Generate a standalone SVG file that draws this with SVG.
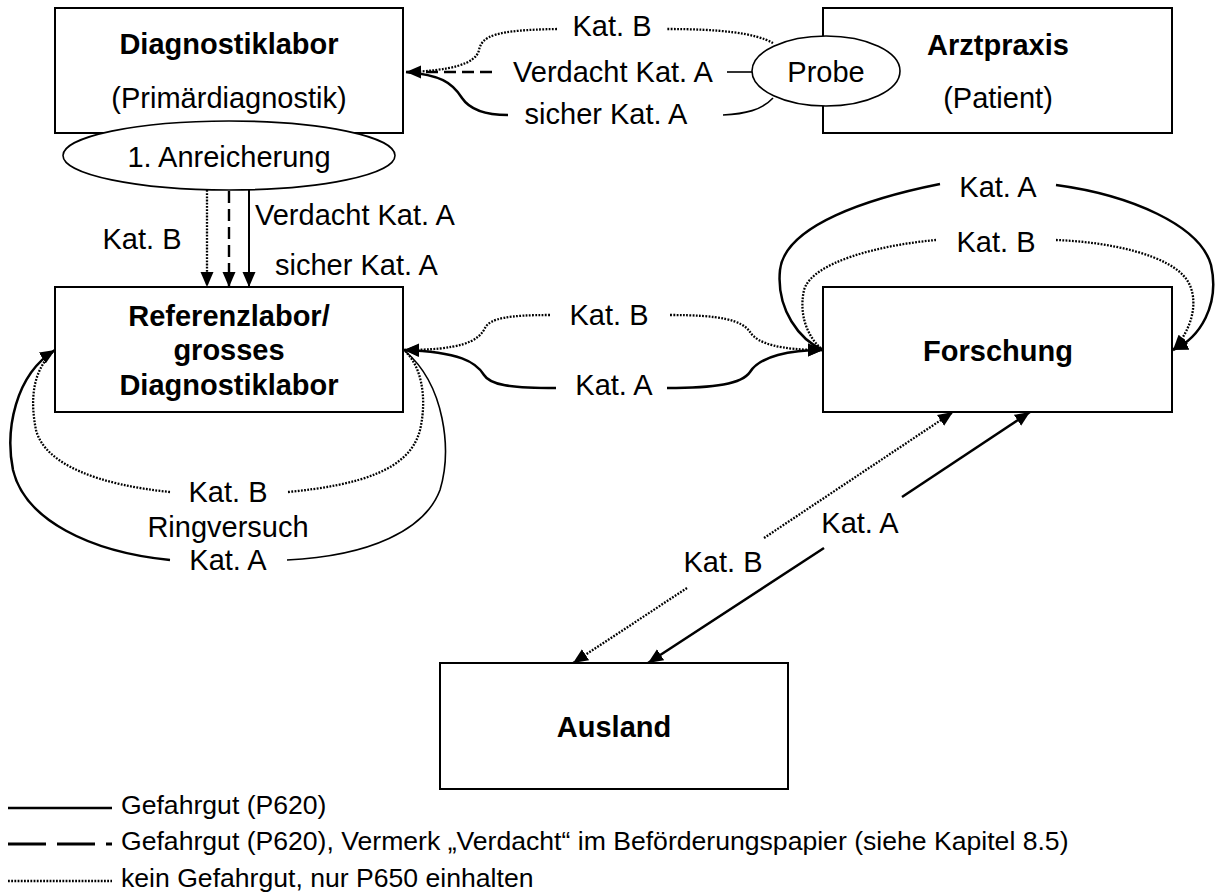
<svg xmlns="http://www.w3.org/2000/svg" width="1215" height="894" viewBox="0 0 1215 894">
<defs>
<marker id="ah" markerUnits="userSpaceOnUse" markerWidth="16" markerHeight="14" refX="15" refY="6.5" orient="auto" viewBox="0 0 16 13">
<path d="M0,0 L15,6.5 L0,13 z" fill="#000"/>
</marker>
<style>
.box{fill:#fff;stroke:#000;stroke-width:2}
.ell{fill:#fff;stroke:#000;stroke-width:1.6}
.t{font-family:"Liberation Sans",Arial,sans-serif;font-size:29px;fill:#000}
.b{font-weight:bold}
.m{text-anchor:middle}
.sol{fill:none;stroke:#000;stroke-width:2.5}
.thin{fill:none;stroke:#000;stroke-width:1.6}
.dash{fill:none;stroke:#000;stroke-width:2.4;stroke-dasharray:12 6}
.dot{fill:none;stroke:#000;stroke-width:2.3;stroke-dasharray:1.8 1.4}
.lg{font-family:"Liberation Sans",Arial,sans-serif;font-size:26.6px;fill:#000}
</style>
</defs>
<rect width="1215" height="894" fill="#fff"/>

<g id="diagnostiklabor">
<rect class="box" x="55" y="8" width="348" height="125"/>
<text class="t b m" x="229" y="54">Diagnostiklabor</text>
<text class="t m" x="229" y="108">(Primärdiagnostik)</text>
</g>
<g id="arztpraxis">
<rect class="box" x="823" y="8" width="349" height="125"/>
<text class="t b m" x="998" y="55">Arztpraxis</text>
<text class="t m" x="998" y="108">(Patient)</text>
</g>
<g id="referenzlabor">
<rect class="box" x="55" y="287" width="348" height="125"/>
<text class="t b m" x="229" y="326">Referenzlabor/</text>
<text class="t b m" x="229" y="360">grosses</text>
<text class="t b m" x="229" y="395">Diagnostiklabor</text>
</g>
<g id="forschung">
<rect class="box" x="823" y="287" width="349" height="125"/>
<text class="t b m" x="998" y="361">Forschung</text>
</g>
<g id="ausland">
<rect class="box" x="440" y="663" width="348" height="126"/>
<text class="t b m" x="614" y="737">Ausland</text>
</g>

<g id="connectors">
<!-- Probe -> Diagnostiklabor -->
<path class="dot" d="M773,43 C755,33 720,29 667,29"/>
<path class="dot" d="M557,29 C495,30 482,36 479,50 C476,64 450,71 406,72"/>
<path class="dash" d="M492,72 L406,72" marker-end="url(#ah)"/>
<path class="thin" d="M752,72 L727,72"/>
<path class="thin" d="M773,98 C762,110 745,114 723,115"/>
<path class="sol" d="M508,115 C485,115 470,110 462,98 C452,82 440,75 406,72"/>
<!-- Anreicherung -> Referenzlabor -->
<path class="dot" d="M207,190 L207,287" marker-end="url(#ah)"/>
<path class="dash" d="M229,191 L229,287" marker-end="url(#ah)"/>
<path class="thin" style="stroke-width:2" d="M249,189 L249,287" marker-end="url(#ah)"/>
<!-- Referenzlabor <-> Forschung -->
<path class="dot" d="M550,315 C510,315 490,318 485,328 C478,342 460,350 404,350" marker-end="url(#ah)"/>
<path class="dot" d="M670,315 C720,315 742,320 750,332 C758,344 780,350 823,350" marker-end="url(#ah)"/>
<path class="sol" d="M556,388 C510,388 490,385 484,375 C476,362 460,352 404,350" marker-end="url(#ah)"/>
<path class="sol" d="M667,388 C715,388 742,384 750,372 C760,356 790,350 823,350" marker-end="url(#ah)"/>
<!-- Forschung loops -->
<path class="sol" d="M940,184 C870,198 785,225 780,270 C776,310 800,340 823,350"/>
<path class="sol" d="M1056,185 C1130,195 1200,225 1211,265 C1220,305 1200,338 1173,350" marker-end="url(#ah)"/>
<path class="dot" d="M936,240 C880,245 812,262 804,290 C798,318 810,340 823,350"/>
<path class="dot" d="M1056,240 C1110,242 1170,255 1187,280 C1200,300 1192,330 1173,350" marker-end="url(#ah)"/>
<!-- Forschung <-> Ausland -->
<path class="dot" d="M764,538 L953,412" marker-end="url(#ah)"/>
<path class="dot" d="M687,588 L573,663" marker-end="url(#ah)"/>
<path class="sol" d="M902,497 L1030,412" marker-end="url(#ah)"/>
<path class="sol" d="M824,548 L648,663" marker-end="url(#ah)"/>
<!-- Referenzlabor loops (Ringversuch) -->
<path class="sol" d="M170,560 C90,552 25,520 13,470 C5,430 15,375 55,350" marker-end="url(#ah)"/>
<path class="thin" d="M287,560 C370,556 425,530 440,490 C452,450 445,385 405,351"/>
<path class="dot" d="M170,492 C100,485 45,465 36,430 C30,400 32,370 55,350"/>
<path class="dot" d="M288,492 C360,485 410,470 420,430 C428,395 420,365 405,351"/>
</g>

<g id="anreicherung">
<ellipse class="ell" cx="229" cy="155.5" rx="166" ry="34.5"/>
<text class="t m" x="229" y="167">1. Anreicherung</text>
</g>
<g id="probe">
<ellipse class="ell" cx="826" cy="71" rx="74" ry="35"/>
<text class="t m" x="826" y="82">Probe</text>
</g>

<g id="labels">
<text class="t m" x="612" y="36">Kat. B</text>
<text class="t m" x="613" y="82">Verdacht Kat. A</text>
<text class="t m" x="606" y="124">sicher Kat. A</text>
<text class="t m" x="142" y="249">Kat. B</text>
<text class="t" x="255" y="225">Verdacht Kat. A</text>
<text class="t" x="275" y="275">sicher Kat. A</text>
<text class="t m" x="609" y="325">Kat. B</text>
<text class="t m" x="614" y="395">Kat. A</text>
<text class="t m" x="998" y="197">Kat. A</text>
<text class="t m" x="996" y="252">Kat. B</text>
<text class="t m" x="723" y="572">Kat. B</text>
<text class="t m" x="860" y="533">Kat. A</text>
<text class="t m" x="228" y="502">Kat. B</text>
<text class="t m" x="228" y="537">Ringversuch</text>
<text class="t m" x="228" y="570">Kat. A</text>
</g>

<g id="legend">
<line class="sol" x1="8" y1="808" x2="112" y2="808"/>
<line class="sol" x1="8" y1="844" x2="112" y2="844" style="stroke-width:3;stroke-dasharray:38 11"/>
<line class="dot" x1="8" y1="881" x2="112" y2="881"/>
<text class="lg" x="121" y="814">Gefahrgut (P620)</text>
<text class="lg" x="121" y="850">Gefahrgut (P620), Vermerk „Verdacht“ im Beförderungspapier (siehe Kapitel 8.5)</text>
<text class="lg" x="121" y="887">kein Gefahrgut, nur P650 einhalten</text>
</g>
</svg>
